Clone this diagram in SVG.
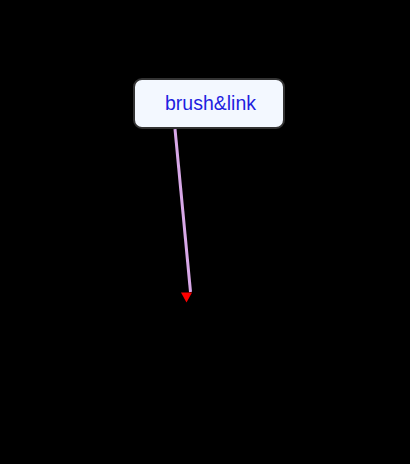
<svg xmlns="http://www.w3.org/2000/svg" width="410" height="464" viewBox="0 0 410 464">
  <style>
    .node rect { fill: #f3f8ff; stroke: #333333; stroke-width: 2; }
    .node text { font-family: "Liberation Sans", Arial, sans-serif; font-size: 19.5px; fill: #1e1ee0; text-anchor: middle; }
    .edge { stroke: #d8a8e8; stroke-width: 3; fill: none; }
    .head { fill: #ff0000; }
  </style>
  <rect width="410" height="464" fill="#000000"/>
  <g id="connectors">
    <line class="edge" x1="175" y1="129" x2="190.5" y2="292"/>
    <polygon class="head" points="181,292.5 192,292.5 186.5,302.5"/>
  </g>
  <g id="node-brushlink" class="node">
    <rect x="134" y="79" width="150" height="49" rx="8" ry="8"/>
    <text x="210.5" y="109.5">brush&amp;link</text>
  </g>
</svg>
